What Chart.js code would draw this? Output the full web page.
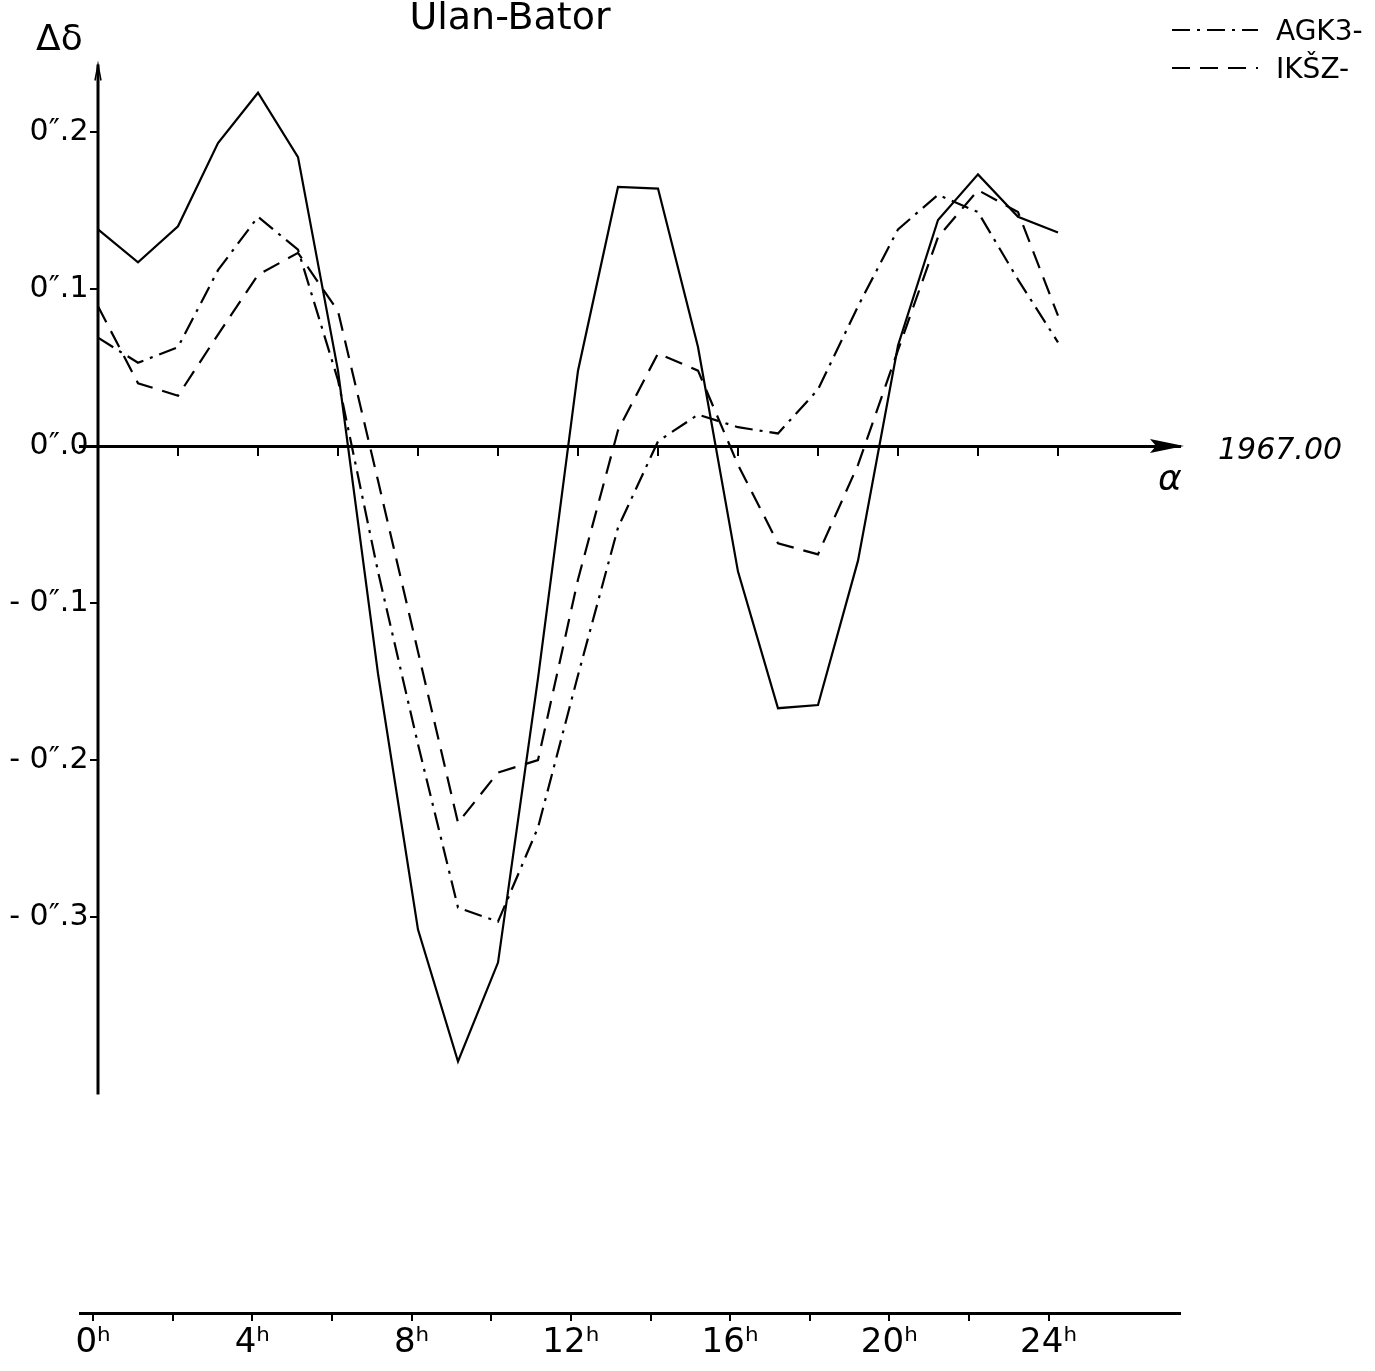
<!DOCTYPE html>
<html>
<head>
<meta charset="utf-8">
<script src="https://cdn.jsdelivr.net/npm/chart.js@4.4.1/dist/chart.umd.min.js"></script>
<style>
  html, body { margin: 0; padding: 0; background: #fff; }
</style>
</head>
<body>
<canvas id="chart" width="1375" height="1371"></canvas>
<script>
// right ascension in hours
const hours = [0, 1, 2, 3, 4, 5, 6, 7, 8, 9, 10, 11, 12, 13, 14, 15, 16, 17, 18, 19, 20, 21, 22, 23, 24];

// delta-delta in arcsec
const mainSeries = [0.138, 0.117, 0.140, 0.193, 0.225, 0.184, 0.048, -0.145, -0.308, -0.392, -0.329, -0.148, 0.048,
  0.165, 0.164, 0.063, -0.080, -0.167, -0.165, -0.073, 0.064, 0.144, 0.173, 0.146, 0.136];
const agk3 = [0.069, 0.053, 0.063, 0.112, 0.146, 0.125, 0.042, -0.080, -0.190, -0.294, -0.303, -0.243, -0.146,
  -0.052, 0.003, 0.020, 0.012, 0.008, 0.036, 0.089, 0.138, 0.160, 0.149, 0.106, 0.066];
const ikfz = [0.089, 0.040, 0.032, 0.071, 0.109, 0.123, 0.086, -0.022, -0.131, -0.240, -0.208, -0.200, -0.085,
  0.010, 0.059, 0.048, -0.012, -0.062, -0.069, -0.012, 0.061, 0.133, 0.163, 0.149, 0.083];

const yTicks = [-0.3, -0.2, -0.1, 0, 0.1, 0.2];
const hourTicks = [0, 2, 4, 6, 8, 10, 12, 14, 16, 18, 20, 22, 24];
const hourLabels = [0, 4, 8, 12, 16, 20, 24];

const FONT = "'DejaVu Sans', sans-serif";

function pts(arr) {
  return hours.map((h, i) => ({ x: h, y: arr[i] }));
}

// 0.2 -> 0″.2 ; trailing space keeps the label clear of the tick mark
function arcsec(v) {
  const s = Math.abs(v).toFixed(1).split('.');
  const sign = v < 0 ? '- ' : '';
  return sign + s[0] + '\u2033.' + s[1] + ' ';
}

// axis arrows, axis line and hand-written notes
const notes = {
  id: 'notes',
  afterDraw(chart) {
    const ctx = chart.ctx;
    const x = chart.scales.x, y = chart.scales.y;
    const x0 = x.getPixelForValue(0);
    const yTop = y.getPixelForValue(0.243);
    const yBot = y.getPixelForValue(-0.413);
    const yZero = y.getPixelForValue(0);
    const xEnd = x.getPixelForValue(x.max);

    ctx.save();
    ctx.strokeStyle = '#000';
    ctx.fillStyle = '#000';

    // vertical axis
    ctx.lineWidth = 3;
    ctx.beginPath();
    ctx.moveTo(x0, yTop);
    ctx.lineTo(x0, yBot);
    ctx.stroke();
    ctx.lineWidth = 1.5;
    ctx.beginPath();
    ctx.moveTo(x0 - 3, yTop + 16);
    ctx.lineTo(x0, yTop);
    ctx.lineTo(x0 + 3, yTop + 16);
    ctx.stroke();

    // arrow at end of zero line
    ctx.beginPath();
    ctx.moveTo(xEnd + 4, yZero);
    ctx.lineTo(xEnd - 30, yZero - 7);
    ctx.lineTo(xEnd - 24, yZero);
    ctx.lineTo(xEnd - 30, yZero + 7);
    ctx.closePath();
    ctx.fill();

    ctx.textBaseline = 'alphabetic';
    ctx.textAlign = 'left';
    ctx.font = '36px ' + FONT;
    ctx.fillText('\u0394\u03b4', 36, 50);
    ctx.font = '38px ' + FONT;
    ctx.textAlign = 'center';
    ctx.fillText('Ulan-Bator', 510, 29);

    ctx.textAlign = 'left';
    ctx.font = 'italic 30px ' + FONT;
    ctx.fillText('1967.00', 1218, 459);
    ctx.font = 'italic 36px ' + FONT;
    ctx.fillText('\u03b1', 1158, 490);

    // legend
    const items = [
      { text: 'AGK3-', dash: [18, 7, 3, 7], y: 30 },
      { text: 'IKŠZ-', dash: [18, 10], y: 68 }
    ];
    ctx.font = '28px ' + FONT;
    items.forEach(it => {
      ctx.lineWidth = 2;
      ctx.setLineDash(it.dash);
      ctx.beginPath();
      ctx.moveTo(1172, it.y);
      ctx.lineTo(1258, it.y);
      ctx.stroke();
      ctx.setLineDash([]);
      ctx.fillText(it.text, 1276, it.y + 10);
    });
    ctx.restore();
  }
};

new Chart(document.getElementById('chart'), {
  type: 'line',
  data: {
    datasets: [
      {
        label: 'FK4',
        data: pts(mainSeries),
        borderColor: '#000',
        borderWidth: 2.2,
        pointRadius: 0,
        tension: 0
      },
      {
        label: 'AGK3-',
        data: pts(agk3),
        borderColor: '#000',
        borderWidth: 2.2,
        borderDash: [18, 7, 3, 7],
        pointRadius: 0,
        tension: 0
      },
      {
        label: 'IKŠZ-',
        data: pts(ikfz),
        borderColor: '#000',
        borderWidth: 2.2,
        borderDash: [18, 10],
        pointRadius: 0,
        tension: 0
      }
    ]
  },
  options: {
    responsive: false,
    animation: false,
    devicePixelRatio: 1,
    layout: { padding: { left: 80, right: 195, top: 40, bottom: 4 } },
    plugins: {
      legend: { display: false },
      tooltip: { enabled: false },
      title: { display: false }
    },
    scales: {
      x: {
        type: 'linear',
        position: { y: 0 },
        min: -0.45,
        max: 27.05,
        border: { color: '#000', width: 3 },
        grid: { drawOnChartArea: false, drawTicks: true, tickLength: 8, color: '#000', lineWidth: 2 },
        ticks: { display: false },
        afterBuildTicks: (scale) => { scale.ticks = hourTicks.map(v => ({ value: v })); }
      },
      xb: {
        type: 'linear',
        position: 'bottom',
        min: -0.33,
        max: 27.3,
        border: { color: '#000', width: 3 },
        grid: { drawOnChartArea: false, drawTicks: true, tickLength: 8, color: '#000', lineWidth: 2 },
        ticks: {
          color: '#000',
          font: { family: FONT, size: 34 },
          padding: 2,
          autoSkip: false,
          maxRotation: 0,
          callback: (v) => hourLabels.includes(v) ? v + '\u02b0' : ''
        },
        afterBuildTicks: (scale) => { scale.ticks = hourTicks.map(v => ({ value: v })); },
        afterFit: (scale) => { scale.height = 54; }
      },
      y: {
        type: 'linear',
        position: { x: 0 },
        min: -0.5522,
        max: 0.2586,
        border: { display: false },
        grid: { drawOnChartArea: false, drawTicks: true, tickLength: 8, color: '#000', lineWidth: 2 },
        ticks: {
          color: '#000',
          font: { family: FONT, size: 30 },
          padding: 4,
          callback: (v) => arcsec(v)
        },
        afterBuildTicks: (scale) => { scale.ticks = yTicks.map(v => ({ value: v })); }
      }
    }
  },
  plugins: [notes]
});
</script>
</body>
</html>
